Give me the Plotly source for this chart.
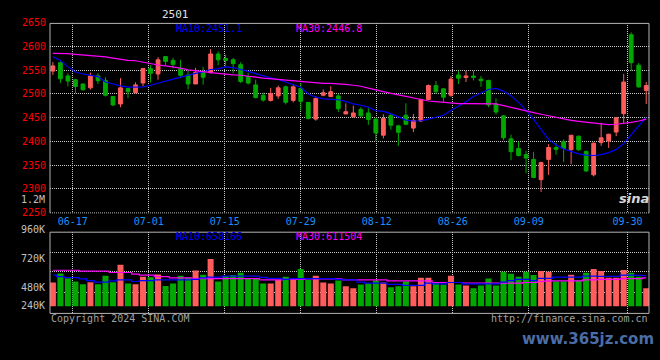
import plotly.graph_objects as go

# ---------------- data ----------------
dates = [
    "06-12", "06-13", "06-14", "06-17", "06-18", "06-19", "06-20", "06-21", "06-24", "06-25",
    "06-26", "06-27", "06-28", "07-01", "07-02", "07-03", "07-04", "07-05", "07-08", "07-09",
    "07-10", "07-11", "07-12", "07-15", "07-16", "07-17", "07-18", "07-19", "07-22", "07-23",
    "07-24", "07-25", "07-26", "07-29", "07-30", "07-31", "08-01", "08-02", "08-05", "08-06",
    "08-07", "08-08", "08-09", "08-12", "08-13", "08-14", "08-15", "08-16", "08-19", "08-20",
    "08-21", "08-22", "08-23", "08-26", "08-27", "08-28", "08-29", "08-30", "09-02", "09-03",
    "09-04", "09-05", "09-06", "09-09", "09-10", "09-11", "09-12", "09-13", "09-18", "09-19",
    "09-20", "09-23", "09-24", "09-25", "09-26", "09-27", "09-30", "10-08", "10-09", "10-10",
]

open_ = [
    2548.3, 2566.0, 2538.1, 2530.0, 2521.1, 2512.9, 2538.1, 2528.6, 2494.6, 2478.9,
    2511.6, 2502.7, 2523.1, 2553.8, 2542.2, 2578.9, 2570.8, 2553.8, 2540.2, 2521.1,
    2545.6, 2544.9, 2584.4, 2574.9, 2572.1, 2561.9, 2536.8, 2519.1, 2497.3, 2486.4,
    2495.9, 2515.0, 2486.4, 2511.6, 2482.3, 2446.9, 2497.3, 2494.6, 2495.9, 2457.9,
    2451.7, 2467.4, 2459.9, 2447.0, 2413.0, 2455.1, 2432.7, 2455.1, 2427.9, 2442.9,
    2488.5, 2517.7, 2510.9, 2497.3, 2540.2, 2534.7, 2538.0, 2531.3, 2528.6, 2478.9,
    2453.8, 2405.4, 2385.0, 2372.0, 2361.9, 2319.0, 2361.9, 2387.0, 2399.3, 2382.3,
    2410.9, 2378.9, 2329.3, 2397.3, 2400.7, 2419.7, 2458.5, 2625.2, 2560.6, 2507.5,
]
high = [
    2567.4, 2568.7, 2543.6, 2532.0, 2522.0, 2544.9, 2543.6, 2535.4, 2495.0, 2533.3,
    2512.0, 2524.5, 2554.0, 2560.6, 2577.6, 2580.0, 2576.2, 2572.1, 2550.4, 2555.1,
    2557.2, 2594.6, 2589.8, 2583.0, 2576.0, 2567.0, 2545.0, 2529.9, 2502.7, 2512.9,
    2517.7, 2518.0, 2519.7, 2523.1, 2483.0, 2494.6, 2509.5, 2516.3, 2500.7, 2480.3,
    2475.5, 2472.0, 2470.0, 2449.0, 2457.2, 2457.0, 2435.0, 2480.3, 2457.8, 2490.0,
    2520.0, 2527.2, 2512.0, 2538.0, 2549.0, 2549.0, 2549.0, 2538.0, 2530.0, 2490.5,
    2455.0, 2414.0, 2399.3, 2380.0, 2378.0, 2357.0, 2393.9, 2397.3, 2404.0, 2413.0,
    2412.0, 2380.0, 2398.0, 2439.5, 2416.0, 2450.0, 2542.2, 2630.0, 2565.3, 2525.2,
]
low = [
    2540.2, 2523.1, 2516.3, 2501.4, 2507.0, 2509.5, 2521.1, 2494.6, 2474.2, 2472.1,
    2491.2, 2501.4, 2516.3, 2524.5, 2530.0, 2560.6, 2553.8, 2533.3, 2509.5, 2521.0,
    2519.7, 2543.6, 2560.6, 2560.0, 2543.6, 2523.0, 2520.0, 2490.5, 2483.7, 2484.0,
    2490.0, 2478.0, 2482.3, 2465.3, 2446.3, 2443.6, 2495.0, 2494.0, 2462.0, 2457.0,
    2451.0, 2452.0, 2434.7, 2400.7, 2406.1, 2424.5, 2390.5, 2434.0, 2419.7, 2441.0,
    2487.0, 2500.0, 2482.3, 2494.0, 2521.1, 2525.2, 2528.6, 2515.0, 2472.1, 2456.5,
    2402.0, 2360.0, 2368.0, 2332.7, 2322.0, 2293.2, 2329.3, 2372.0, 2356.5, 2351.7,
    2380.0, 2336.0, 2325.9, 2390.5, 2386.0, 2411.0, 2438.1, 2548.3, 2513.0, 2478.9,
]
close = [
    2559.2, 2532.0, 2527.2, 2515.7, 2508.9, 2538.1, 2527.9, 2497.3, 2476.9, 2512.9,
    2504.8, 2519.1, 2553.8, 2543.6, 2572.1, 2568.7, 2562.6, 2539.5, 2521.1, 2545.6,
    2535.4, 2584.4, 2572.1, 2570.8, 2564.0, 2526.5, 2523.1, 2492.5, 2487.1, 2500.7,
    2512.9, 2482.3, 2515.0, 2484.4, 2448.3, 2490.5, 2502.7, 2504.8, 2468.7, 2462.6,
    2459.9, 2453.8, 2446.3, 2417.7, 2448.3, 2434.0, 2419.1, 2436.1, 2444.2, 2488.5,
    2517.7, 2504.8, 2493.2, 2531.3, 2533.3, 2538.0, 2534.7, 2528.0, 2476.9, 2461.9,
    2407.4, 2378.2, 2370.0, 2364.6, 2323.8, 2355.1, 2387.1, 2383.0, 2385.0, 2412.9,
    2382.3, 2337.4, 2396.0, 2407.4, 2415.0, 2449.7, 2525.2, 2566.0, 2515.0, 2517.7,
]
ma10 = [
    2578.9, 2570.8, 2557.2, 2546.3, 2542.2, 2538.8, 2536.8, 2525.2, 2520.4, 2517.0,
    2514.3, 2514.3, 2515.0, 2518.4, 2523.1, 2527.9, 2531.3, 2535.4, 2540.2, 2543.6,
    2546.3, 2551.7, 2553.1, 2557.2, 2555.8, 2552.4, 2547.6, 2542.9, 2538.1, 2534.0,
    2530.6, 2525.2, 2519.7, 2514.3, 2500.0, 2493.2, 2489.8, 2489.1, 2487.8, 2484.4,
    2478.9, 2476.2, 2472.1, 2464.6, 2463.3, 2458.5, 2452.4, 2444.9, 2442.9, 2443.5,
    2447.0, 2451.7, 2455.1, 2465.3, 2474.2, 2483.7, 2494.6, 2502.7, 2509.5, 2511.6,
    2506.1, 2495.9, 2482.3, 2465.3, 2447.0, 2424.5, 2404.1, 2392.5, 2383.7, 2378.9,
    2373.5, 2370.8, 2370.1, 2372.1, 2376.2, 2383.0, 2395.3, 2414.3, 2433.3, 2451.1,
]
ma30 = [
    2585.7, 2585.7, 2585.1, 2583.7, 2582.3, 2581.6, 2581.0, 2578.2, 2575.5, 2572.8,
    2570.8, 2570.1, 2566.7, 2563.3, 2561.2, 2559.2, 2557.2, 2554.4, 2551.0, 2548.3,
    2547.0, 2544.9, 2542.9, 2541.5, 2540.2, 2539.5, 2538.1, 2535.4, 2533.3, 2532.0,
    2530.6, 2528.6, 2527.9, 2526.5, 2524.5, 2523.1, 2522.5, 2522.5, 2521.8, 2520.4,
    2518.4, 2516.3, 2512.3, 2508.2, 2504.8, 2501.4, 2498.0, 2494.6, 2490.5, 2487.8,
    2485.1, 2483.7, 2482.3, 2480.3, 2479.6, 2479.6, 2479.6, 2480.3, 2480.3, 2478.9,
    2475.5, 2471.4, 2468.7, 2463.9, 2460.6, 2457.2, 2453.8, 2449.7, 2446.3, 2444.2,
    2442.2, 2440.1, 2438.1, 2436.8, 2435.4, 2436.1, 2437.4, 2440.1, 2442.9, 2446.8,
]
volume_k = [
    511, 704, 601, 532, 476, 518, 476, 656, 518, 891,
    490, 476, 635, 621, 684, 435, 490, 656, 615, 766,
    677, 1015, 532, 649, 670, 718, 601, 601, 490, 490,
    566, 635, 601, 801, 566, 656, 511, 490, 552, 428,
    387, 470, 497, 552, 511, 407, 428, 532, 428, 615,
    615, 511, 470, 656, 470, 449, 387, 449, 594, 449,
    739, 697, 635, 739, 670, 760, 739, 532, 532, 677,
    552, 718, 801, 760, 615, 615, 780, 718, 635, 387,
]
vol_ma10_k = [
    670, 635, 615, 615, 587, 552, 518, 518, 545, 566,
    566, 532, 552, 552, 566, 566, 566, 566, 566, 580,
    608, 628, 628, 649, 649, 649, 649, 649, 621, 601,
    601, 580, 594, 594, 594, 594, 594, 594, 580, 566,
    566, 518, 497, 497, 497, 470, 470, 449, 449, 449,
    497, 483, 483, 511, 511, 483, 483, 483, 483, 483,
    518, 552, 580, 580, 552, 601, 601, 628, 628, 628,
    628, 649, 649, 642, 642, 642, 670, 670, 663, 658,
]
vol_ma30_k = [
    773, 773, 773, 773, 753, 753, 753, 753, 725, 725,
    725, 690, 670, 670, 635, 635, 608, 608, 608, 594,
    594, 594, 594, 594, 594, 594, 594, 594, 566, 566,
    566, 580, 580, 580, 587, 587, 587, 587, 587, 566,
    566, 566, 566, 566, 566, 545, 545, 545, 545, 545,
    545, 511, 511, 511, 511, 497, 497, 497, 497, 497,
    497, 497, 497, 511, 511, 532, 545, 545, 545, 545,
    545, 566, 566, 580, 580, 580, 594, 594, 594, 612,
]
date_ticks = ["06-17", "07-01", "07-15", "07-29", "08-12", "08-26", "09-09", "09-30"]
price_ticks = [2250, 2300, 2350, 2400, 2450, 2500, 2550, 2600, 2650]
vol_labels = ["1.2M", "960K", "720K", "480K", "240K"]
symbol = "2501"
ma10_text = "MA10:2451.1"
ma30_text = "MA30:2446.8"
vma10_text = "MA10:658166"
vma30_text = "MA30:611504"

# ---------------- geometry / style ----------------
W, H = 660, 360
def px(x): return x / W
def py(y): return 1 - y / H

RED = "#ff5c5c"
GREEN = "#00a800"
BLUE = "#0000ff"
MAG = "#ff00ff"
GRID = "#c8c8c8"
FRAME = "#b4b4b4"
FONT = "DejaVu Sans Mono"

xs = list(range(len(dates)))
def grid_pos(i):
    return i - 0.36 + 0.012 * (i - 3)
tick_pos = [grid_pos(dates.index(d)) for d in date_ticks]

fig = go.Figure()
fig.add_trace(go.Candlestick(
    x=xs, open=open_, high=high, low=low, close=close,
    increasing=dict(fillcolor=RED, line=dict(color=RED, width=1)),
    decreasing=dict(fillcolor=GREEN, line=dict(color=GREEN, width=1)),
    whiskerwidth=0, xaxis="x", yaxis="y", hoverinfo="skip",
))
fig.add_trace(go.Scatter(x=xs, y=ma10, mode="lines", line=dict(color=BLUE, width=1.2),
                         xaxis="x", yaxis="y", hoverinfo="skip"))
fig.add_trace(go.Scatter(x=xs, y=ma30, mode="lines", line=dict(color=MAG, width=1.2),
                         xaxis="x", yaxis="y", hoverinfo="skip"))

vol_colors = [RED if c >= o else GREEN for o, c in zip(open_, close)]
fig.add_trace(go.Bar(x=xs, y=volume_k, width=0.8, marker=dict(color=vol_colors, line=dict(width=0)),
                     xaxis="x2", yaxis="y2", hoverinfo="skip"))
fig.add_trace(go.Scatter(x=xs, y=vol_ma30_k, mode="lines", line=dict(color=MAG, width=1.2, shape="hvh"),
                         xaxis="x2", yaxis="y2", hoverinfo="skip"))
fig.add_trace(go.Scatter(x=xs, y=vol_ma10_k, mode="lines", line=dict(color=BLUE, width=1.2, shape="hvh"),
                         xaxis="x2", yaxis="y2", hoverinfo="skip"))

xdom = [px(50), px(649)]
xrange_ = [-0.386, 79.37]
fig.update_layout(
    width=W, height=H, margin=dict(l=0, r=0, t=0, b=0, pad=0),
    paper_bgcolor="black", plot_bgcolor="black", showlegend=False,
    hovermode=False, boxgap=0.28,
    font=dict(family=FONT, size=10, color="#c0c0c0"),
    xaxis=dict(domain=xdom, range=xrange_, anchor="y", rangeslider=dict(visible=False),
               tickmode="array", tickvals=tick_pos, ticktext=date_ticks,
               tickfont=dict(family=FONT, size=10, color="#1e8fff"),
               showgrid=True, gridcolor=GRID, griddash="1px,1px", gridwidth=1,
               zeroline=False, showline=False, ticks="", ticklabelstandoff=2, fixedrange=True),
    yaxis=dict(domain=[py(213.5), py(17.5)], range=[2250, 2650], anchor="x",
               tickmode="array", tickvals=price_ticks, ticktext=[str(v) for v in price_ticks],
               tickfont=dict(family=FONT, size=10, color="#ff0000"),
               showgrid=True, gridcolor=GRID, griddash="1px,1px", gridwidth=1,
               zeroline=False, showline=False, ticks="", ticklabelstandoff=3, fixedrange=True),
    xaxis2=dict(domain=xdom, range=xrange_, anchor="y2", matches="x",
                tickmode="array", tickvals=tick_pos, showticklabels=False,
                showgrid=True, gridcolor=GRID, griddash="1px,1px", gridwidth=1,
                zeroline=False, showline=False, ticks="", fixedrange=True),
    yaxis2=dict(domain=[py(318), py(234)], range=[-151.2, 1588.8], anchor="x2",
                tickmode="array", tickvals=[304.5, 739.5, 1153.8], showticklabels=False,
                showgrid=True, gridcolor=GRID, griddash="1px,1px", gridwidth=1,
                zeroline=False, showline=False, ticks="", fixedrange=True),
)

shapes = []
def line(x0, y0, x1, y1, dash="solid", color=FRAME):
    shapes.append(dict(type="line", xref="paper", yref="paper", x0=px(x0), y0=py(y0),
                       x1=px(x1), y1=py(y1), line=dict(color=color, width=1, dash=dash), layer="above"))
line(50, 18, 649, 18)
line(50, 18, 50, 214)
line(649, 18, 649, 214)
line(50, 214, 649, 214, dash="1px,1px")
line(50, 234, 649, 234)
line(50, 318, 649, 318)
line(50, 234, 50, 318)
line(649, 234, 649, 318)
fig.update_layout(shapes=shapes)

ann = []
def text(t, x, y, color, xanchor="left", size=10, family=FONT, **kw):
    ann.append(dict(text=t, x=px(x), y=py(y), xref="paper", yref="paper", showarrow=False,
                    xanchor=xanchor, yanchor="middle", font=dict(family=family, size=size, color=color), **kw))
text(symbol, 175, 9, "#e0e0e0", xanchor="center", size=11)
text(ma10_text, 174, 23, BLUE)
text(ma30_text, 294, 23, MAG)
text(vma10_text, 174, 238.5, BLUE)
text(vma30_text, 294, 238.5, MAG)
for lab, yy in zip(vol_labels, [200, 231, 261, 291, 310]):
    text(lab, 47, yy, "#c0c0c0", xanchor="right")
text("Copyright 2024 SINA.COM", 49, 323, "#a0a0a0")
text("http://finance.sina.com.cn", 650, 323, "#a0a0a0", xanchor="right")
text("<i><b>sina</b></i>", 634, 199, "#d8d8d8", xanchor="center", size=13, family="DejaVu Sans")
text("<b>www.365jz.com</b>", 656, 344, "#4a6da7", xanchor="right", size=15, family="DejaVu Sans")
fig.update_layout(annotations=ann)

fig.write_html(
    "out.html",
    config={"displayModeBar": False, "staticPlot": True},
    post_script="document.body.style.margin='0';document.body.style.overflow='hidden';"
                "document.documentElement.style.overflow='hidden';",
)
